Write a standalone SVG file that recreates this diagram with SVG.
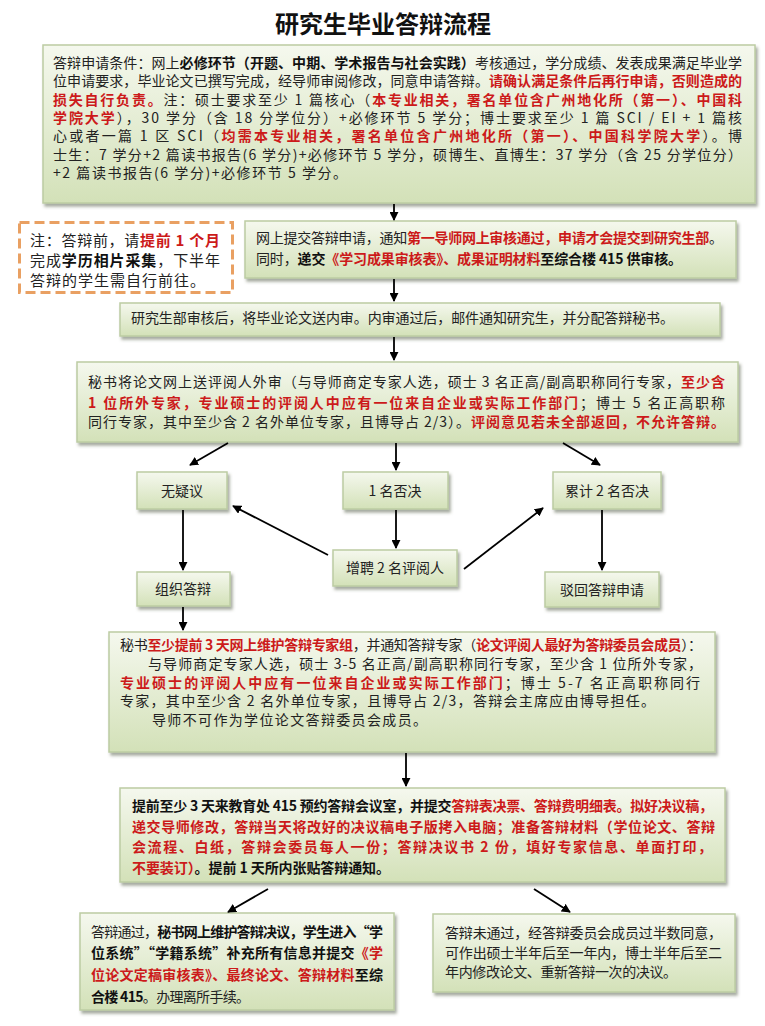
<svg xmlns="http://www.w3.org/2000/svg" width="765" height="1026" viewBox="0 0 765 1026">
<defs>
<linearGradient id="g" x1="0" y1="0" x2="0" y2="1"><stop offset="0" stop-color="#f5f8ee"/><stop offset="1" stop-color="#d3e1b8"/></linearGradient>
<filter id="sh" x="-5%" y="-5%" width="115%" height="130%"><feDropShadow dx="2" dy="3" stdDeviation="1.5" flood-color="#4d5a40" flood-opacity="0.5"/></filter>
<marker id="ah" viewBox="0 0 10 10" refX="9" refY="5" markerWidth="5" markerHeight="5" orient="auto"><path d="M0,0 L10,5 L0,10 z" fill="#000"/></marker>
</defs>
<style>
.box{fill:url(#g);stroke:#bccca3;stroke-width:1.5;filter:url(#sh)}
.t{font-family:"Noto Sans CJK SC","Noto Sans CJK JP",sans-serif;font-size:14px;fill:#222}
.b{font-weight:bold;fill:#111}
.r{font-weight:bold;fill:#cc1a1a}
.c{text-anchor:middle}
.ln{stroke:#000;stroke-width:1.8;fill:none;marker-end:url(#ah)}
</style>
<rect width="765" height="1026" fill="#fff"/>
<text x="383" y="33" text-anchor="middle" font-family="Noto Sans CJK SC, sans-serif" font-size="24" font-weight="bold" fill="#111">研究生毕业答辩流程</text>

<g id="n1">
<rect class="box" x="43" y="45" width="712" height="158"/>
<text class="t" x="53" y="68" textLength="689" lengthAdjust="spacing">答辩申请条件：网上<tspan class="b">必修环节（开题、中期、学术报告与社会实践）</tspan>考核通过，学分成绩、发表成果满足毕业学</text>
<text class="t" x="53" y="86.3" textLength="689" lengthAdjust="spacing">位申请要求，毕业论文已撰写完成，经导师审阅修改，同意申请答辩。<tspan class="r">请确认满足条件后再行申请，否则造成的</tspan></text>
<text class="t" x="53" y="104.6" textLength="689" lengthAdjust="spacing"><tspan class="r">损失自行负责。</tspan>注：硕士要求至少 1 篇核心（<tspan class="r">本专业相关，署名单位含广州地化所（第一）、中国科</tspan></text>
<text class="t" x="53" y="122.9" textLength="689" lengthAdjust="spacing"><tspan class="r">学院大学</tspan>），30 学分（含 18 分学位分）+必修环节 5 学分；博士要求至少 1 篇 SCI / EI + 1 篇核</text>
<text class="t" x="53" y="141.2" textLength="689" lengthAdjust="spacing">心或者一篇 1 区 SCI（<tspan class="r">均需本专业相关，署名单位含广州地化所（第一）、中国科学院大学</tspan>）。博</text>
<text class="t" x="53" y="159.5" textLength="689" lengthAdjust="spacing">士生：7 学分+2 篇读书报告(6 学分)+必修环节 5 学分，硕博生、直博生：37 学分（含 25 分学位分）</text>
<text class="t" x="53" y="177.8" textLength="294" lengthAdjust="spacing">+2 篇读书报告(6 学分)+必修环节 5 学分。</text>
</g>

<g id="note">
<rect x="19.5" y="222.5" width="213" height="70" fill="#fff" stroke="#e9a062" stroke-width="3" stroke-dasharray="10 5"/>
<text class="t" x="30" y="246" font-size="15" style="font-size:15px" textLength="190" lengthAdjust="spacing">注：答辩前，请<tspan class="r">提前 1 个月</tspan></text>
<text class="t" x="30" y="266" style="font-size:15px" textLength="190" lengthAdjust="spacing">完成<tspan class="b">学历相片采集</tspan>，下半年</text>
<text class="t" x="30" y="286" style="font-size:15px" textLength="175" lengthAdjust="spacing">答辩的学生需自行前往。</text>
</g>

<g id="n2">
<rect class="box" x="245" y="221" width="491" height="57"/>
<text class="t" x="256" y="243" textLength="467" lengthAdjust="spacing">网上提交答辩申请，通知<tspan class="r">第一导师网上审核通过，申请才会提交到研究生部</tspan>。</text>
<text class="t" x="256" y="264" textLength="426" lengthAdjust="spacing">同时，<tspan class="b">递交</tspan><tspan class="r">《学习成果审核表》、成果证明材料</tspan><tspan class="b">至综合楼 415 供审核。</tspan></text>
</g>

<g id="n3">
<rect class="box" x="120" y="303" width="600" height="33"/>
<text class="t" x="131" y="323" textLength="543" lengthAdjust="spacing">研究生部审核后，将毕业论文送内审。内审通过后，邮件通知研究生，并分配答辩秘书。</text>
</g>

<g id="n4">
<rect class="box" x="77" y="362" width="661" height="80"/>
<text class="t" x="88" y="387" textLength="637" lengthAdjust="spacing">秘书将论文网上送评阅人外审（与导师商定专家人选，硕士 3 名正高/副高职称同行专家，<tspan class="r">至少含</tspan></text>
<text class="t" x="88" y="408" textLength="637" lengthAdjust="spacing"><tspan class="r">1 位所外专家，专业硕士的评阅人中应有一位来自企业或实际工作部门</tspan>；博士 5 名正高职称</text>
<text class="t" x="88" y="427" textLength="637" lengthAdjust="spacing">同行专家，其中至少含 2 名外单位专家，且博导占 2/3）。<tspan class="r">评阅意见若未全部返回，不允许答辩。</tspan></text>
</g>

<g id="s1"><rect class="box" x="137" y="472" width="90" height="37"/><text class="t c" x="182" y="496">无疑议</text></g>
<g id="s2"><rect class="box" x="343" y="472" width="105" height="37"/><text class="t c" x="395" y="496">1 名否决</text></g>
<g id="s3"><rect class="box" x="553" y="472" width="108" height="37"/><text class="t c" x="607" y="496">累计 2 名否决</text></g>
<g id="s4"><rect class="box" x="137" y="572" width="93" height="34"/><text class="t c" x="183" y="594">组织答辩</text></g>
<g id="s5"><rect class="box" x="333" y="550" width="124" height="36"/><text class="t c" x="395" y="573">增聘 2 名评阅人</text></g>
<g id="s6"><rect class="box" x="545" y="572" width="114" height="35"/><text class="t c" x="602" y="595">驳回答辩申请</text></g>

<g id="n5">
<rect class="box" x="109" y="632" width="606" height="120"/>
<text class="t" x="120" y="650" textLength="582" lengthAdjust="spacing">秘书<tspan class="r">至少提前 3 天网上维护答辩专家组</tspan>，并通知答辩专家（<tspan class="r">论文评阅人最好为答辩委员会成员</tspan>）：</text>
<text class="t" x="148" y="669" textLength="554" lengthAdjust="spacing">与导师商定专家人选，硕士 3-5 名正高/副高职称同行专家，至少含 1 位所外专家，</text>
<text class="t" x="120" y="688" textLength="580" lengthAdjust="spacing"><tspan class="r">专业硕士的评阅人中应有一位来自企业或实际工作部门</tspan>；博士 5-7 名正高职称同行</text>
<text class="t" x="120" y="706" textLength="535" lengthAdjust="spacing">专家，其中至少含 2 名外单位专家，且博导占 2/3，答辩会主席应由博导担任。</text>
<text class="t" x="152" y="725" textLength="275" lengthAdjust="spacing">导师不可作为学位论文答辩委员会成员。</text>
</g>

<g id="n6">
<rect class="box" x="120" y="788" width="605" height="94"/>
<text class="t" x="132" y="811" textLength="581" lengthAdjust="spacing"><tspan class="b">提前至少 3 天来教育处 415 预约答辩会议室，并提交</tspan><tspan class="r">答辩表决票、答辩费明细表。拟好决议稿，</tspan></text>
<text class="t" x="132" y="832" textLength="583" lengthAdjust="spacing"><tspan class="r">递交导师修改，答辩当天将改好的决议稿电子版拷入电脑；准备答辩材料（学位论文、答辩</tspan></text>
<text class="t" x="132" y="852" textLength="580" lengthAdjust="spacing"><tspan class="r">会流程、白纸，答辩会委员每人一份；答辩决议书 2 份，填好专家信息、单面打印，</tspan></text>
<text class="t" x="132" y="873" textLength="258" lengthAdjust="spacing"><tspan class="r">不要装订）</tspan><tspan class="b">。提前 1 天所内张贴答辩通知。</tspan></text>
</g>

<g id="n7">
<rect class="box" x="80" y="913" width="314" height="97"/>
<text class="t" x="91" y="937" textLength="292" lengthAdjust="spacing">答辩通过，<tspan class="b">秘书网上维护答辩决议，学生进入“学</tspan></text>
<text class="t" x="91" y="958" textLength="292" lengthAdjust="spacing"><tspan class="b">位系统”“学籍系统”补充所有信息并提交</tspan><tspan class="r">《学</tspan></text>
<text class="t" x="91" y="980" textLength="292" lengthAdjust="spacing"><tspan class="r">位论文定稿审核表》、最终论文、答辩材料</tspan><tspan class="b">至综</tspan></text>
<text class="t" x="91" y="1002" textLength="159" lengthAdjust="spacing"><tspan class="b">合楼 415</tspan>。办理离所手续。</text>
</g>

<g id="n8">
<rect class="box" x="433" y="914" width="302" height="78"/>
<text class="t" x="445" y="938" textLength="277" lengthAdjust="spacing">答辩未通过，经答辩委员会成员过半数同意，</text>
<text class="t" x="445" y="958" textLength="277" lengthAdjust="spacing">可作出硕士半年后至一年内，博士半年后至二</text>
<text class="t" x="445" y="977" textLength="232" lengthAdjust="spacing">年内修改论文、重新答辩一次的决议。</text>
</g>

<g id="connectors">
<path class="ln" d="M394,204 V220"/>
<path class="ln" d="M394,279 V301"/>
<path class="ln" d="M394,337 V360"/>
<path class="ln" d="M228,443 L190,465"/>
<path class="ln" d="M396,443 V470"/>
<path class="ln" d="M563,443 L600,465"/>
<path class="ln" d="M183,510 V570"/>
<path class="ln" d="M396,510 V548"/>
<path class="ln" d="M602,510 V570"/>
<path class="ln" d="M328,555 L233,506"/>
<path class="ln" d="M464,569 L543,508"/>
<path class="ln" d="M183,607 V630"/>
<path class="ln" d="M406,753 V786"/>
<path class="ln" d="M268,889 L228,912"/>
<path class="ln" d="M534,889 L570,912"/>
</g>
</svg>
